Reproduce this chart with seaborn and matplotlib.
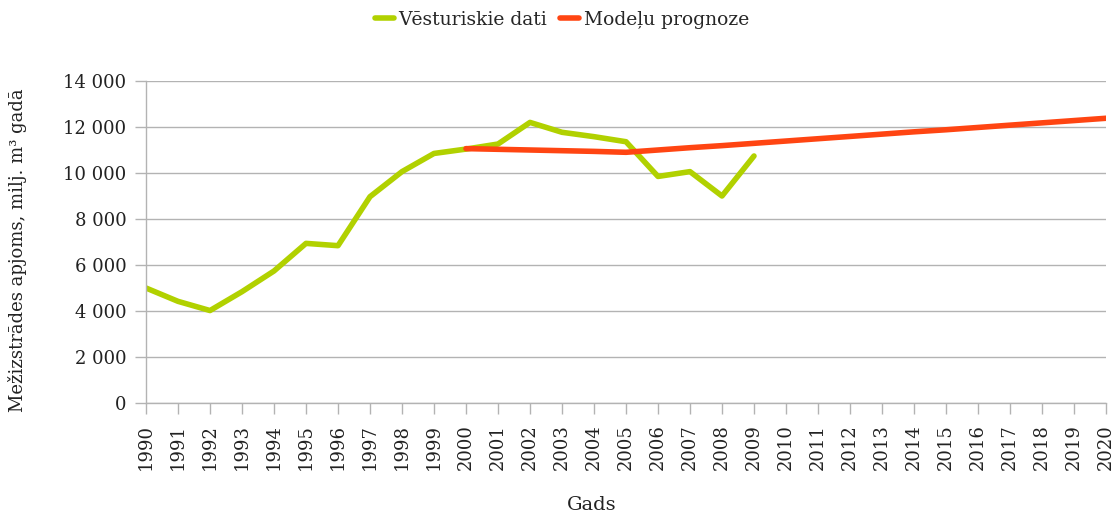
import matplotlib
matplotlib.use("Agg")
import matplotlib.pyplot as plt
import matplotlib.ticker as mticker
import seaborn as sns
import pandas as pd

hist_years = list(range(1990, 2010))
hist_values = [5000, 4420, 4020, 4840, 5740, 6940, 6840, 8970, 10060, 10850,
               11040, 11260, 12200, 11770, 11580, 11360, 9850, 10060, 9000, 10740]

model_years = list(range(2000, 2021))
model_values = [11060, 11030, 11000, 10970, 10940, 10900, 11000, 11100, 11190, 11290,
                11390, 11490, 11590, 11690, 11790, 11880, 11980, 12080, 12180, 12280, 12380]

hist_label = "Vēsturiskie dati"
model_label = "Modeļu prognoze"
y_label = "Mežizstrādes apjoms, milj. m³ gadā"
x_label = "Gads"

sns.set_theme(style="white")
plt.rcParams['font.family'] = ['DejaVu Serif', 'DejaVu Sans']

df = pd.concat([
    pd.DataFrame({"Gads": hist_years, "v": hist_values, "s": hist_label}),
    pd.DataFrame({"Gads": model_years, "v": model_values, "s": model_label}),
])

fig = plt.figure(figsize=(11.18, 5.14), dpi=100)
ax = fig.add_axes([146/1118, 111/514, 960/1118, 322/514])

sns.lineplot(data=df, x="Gads", y="v", hue="s",
             palette={hist_label: "#b1d100", model_label: "#ff4512"},
             linewidth=4.0, ax=ax, legend=True)

ax.set_xlim(1990, 2020)
ax.set_ylim(0, 14000)
ax.set_xticks(list(range(1990, 2021)))
ax.set_xticklabels([str(y) for y in range(1990, 2021)], rotation=90, fontsize=13, color="#222222")
ax.set_yticks(list(range(0, 14001, 2000)))
ax.yaxis.set_major_formatter(mticker.FuncFormatter(lambda v, p: f"{v:,.0f}".replace(",", " ")))
for t in ax.get_yticklabels():
    t.set_fontsize(13)
    t.set_color("#222222")

ax.grid(axis="y", color="#b3b3b3", linewidth=1)
ax.set_axisbelow(True)
for s in ["top", "right"]:
    ax.spines[s].set_visible(False)
for s in ["left", "bottom"]:
    ax.spines[s].set_color("#b3b3b3")
    ax.spines[s].set_linewidth(1)
ax.tick_params(axis="both", which="both", length=8, width=1, color="#b3b3b3",
               direction="out", bottom=True, left=True)
ax.tick_params(axis="x", pad=7)
ax.tick_params(axis="y", pad=6)

ax.set_xlabel(x_label, fontsize=14, color="#222222")
ax.xaxis.set_label_coords((592 - 146) / 960, -(505 - 403) / 322)
ax.xaxis.label.set_va("center")
ax.set_ylabel(y_label, fontsize=13, color="#222222")
ax.yaxis.set_label_coords(-(146 - 18) / 960, (403 - 250) / 322)
ax.yaxis.label.set_va("center")

handles, labels = ax.get_legend_handles_labels()
leg = ax.legend(handles, labels, loc="center", bbox_to_anchor=((562 - 146) / 960, (403 - 20) / 322),
                ncol=2, frameon=False, fontsize=13.5, handlelength=1.0, handletextpad=0.25,
                columnspacing=0.7)

fig.savefig("out.png", dpi=100)
